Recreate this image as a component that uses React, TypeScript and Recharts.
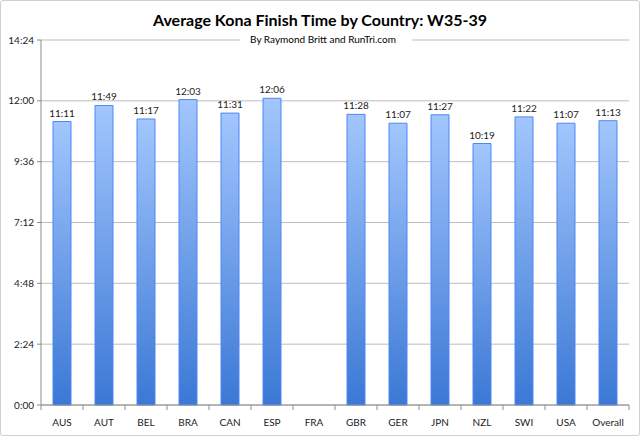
import React from "react";
import { BarChart, Bar, XAxis, YAxis, CartesianGrid, LabelList } from "recharts";

const countries = ["AUS", "AUT", "BEL", "BRA", "CAN", "ESP", "FRA", "GBR", "GER", "JPN", "NZL", "SWI", "USA", "Overall"];
// finish time in minutes (h:mm)
const finishMinutes: (number | null)[] = [671, 709, 677, 723, 691, 726, null, 688, 667, 687, 619, 682, 667, 673];
const yTicks = [0, 144, 288, 432, 576, 720, 864];

const data = countries.map((c, i) => ({ country: c, time: finishMinutes[i] }));

const FONT = "Lato, 'Open Sans', sans-serif";

const fmt = (v: any) => {
  if (v === null || v === undefined || v === "") return "";
  const n = Number(v);
  const h = Math.floor(n / 60);
  const m = Math.round(n - h * 60);
  return `${h}:${m < 10 ? "0" + m : m}`;
};

const W = 640;
const H = 436;
const LEFT = 41;
const RIGHT = 11;
const BAND = (W - LEFT - RIGHT) / countries.length;

const XTick = (props: any) => {
  const { x, y, payload, index } = props;
  const half = BAND / 2;
  return (
    <g>
      <line x1={x - half} x2={x - half} y1={y} y2={y + 5} stroke="#8c8c8c" />
      {index === countries.length - 1 && (
        <line x1={x + half} x2={x + half} y1={y} y2={y + 5} stroke="#8c8c8c" />
      )}
      <text x={x} y={y + 21} textAnchor="middle" fontSize={10} fill="#222" fontFamily={FONT}>
        {payload.value}
      </text>
    </g>
  );
};

export default function App() {
  return (
    <div style={{ position: "absolute", left: 0, top: 0, width: W, height: H, background: "#fff" }}>
      <div
        style={{
          position: "absolute",
          left: 0,
          top: 0,
          width: W,
          height: H,
          boxSizing: "border-box",
          border: "1px solid #cfcfcf",
          borderRadius: 3,
          pointerEvents: "none",
          zIndex: 3,
        }}
      />
      <BarChart width={W} height={H} data={data} margin={{ top: 40, right: RIGHT, bottom: 0, left: 0 }} barSize={18}>
        <defs>
          <linearGradient id="barGrad" x1="0" y1="0" x2="0" y2="1">
            <stop offset="0%" stopColor="#a2c6fd" />
            <stop offset="100%" stopColor="#3b78d5" />
          </linearGradient>
        </defs>
        <CartesianGrid vertical={false} stroke="#bdbdbd" />
        <XAxis
          dataKey="country"
          height={31}
          tickLine={false}
          tickSize={0}
          tickMargin={0}
          interval={0}
          axisLine={{ stroke: "#8c8c8c" }}
          tick={<XTick />}
        />
        <YAxis
          width={LEFT}
          domain={[0, 864]}
          ticks={yTicks}
          tickFormatter={fmt}
          axisLine={{ stroke: "#8c8c8c" }}
          tickLine={{ stroke: "#8c8c8c" }}
          tickSize={4}
          tickMargin={3}
          tick={{ fontSize: 10, fill: "#222", fontFamily: FONT }}
        />
        <Bar dataKey="time" fill="url(#barGrad)" stroke="#4f86f7" strokeWidth={1} isAnimationActive={false}>
          <LabelList dataKey="time" position="top" offset={5} formatter={fmt} fontSize={10} fill="#222" fontFamily={FONT} />
        </Bar>
      </BarChart>
      <div
        style={{
          position: "absolute",
          left: 0,
          top: 10,
          width: W,
          textAlign: "center",
          fontFamily: FONT,
          fontWeight: 700,
          fontSize: 16,
          color: "#000",
        }}
      >
        Average Kona Finish Time by Country: W35-39
      </div>
      <div
        style={{
          position: "absolute",
          left: 6,
          top: 33,
          width: W,
          textAlign: "center",
          fontFamily: FONT,
          fontSize: 10,
          color: "#000",
        }}
      >
        <span style={{ background: "#fff", padding: "0 16px 0 10px" }}>By Raymond Britt and RunTri.com</span>
      </div>
    </div>
  );
}
